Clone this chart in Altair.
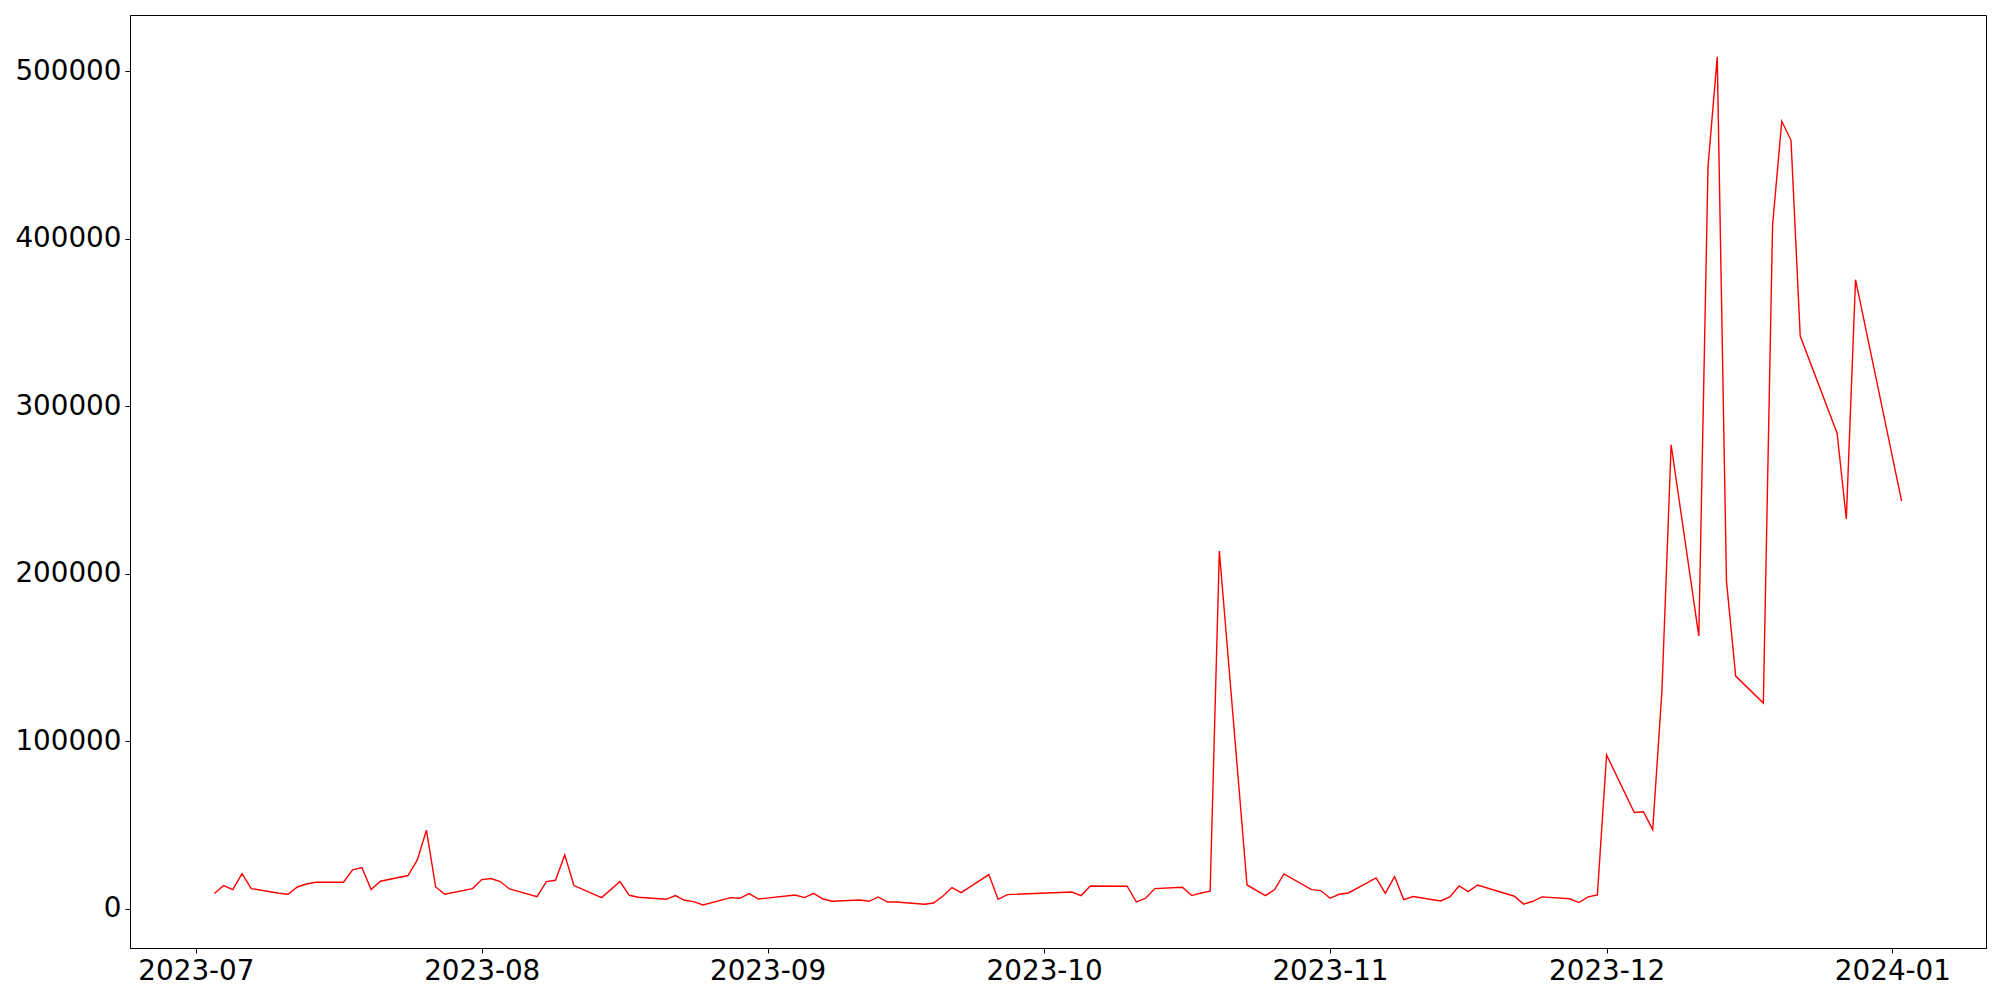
import altair as alt
import pandas as pd

dates = [
    "2023-07-03", "2023-07-04", "2023-07-05", "2023-07-06", "2023-07-07",
    "2023-07-10", "2023-07-11", "2023-07-12", "2023-07-13", "2023-07-14",
    "2023-07-17", "2023-07-18", "2023-07-19", "2023-07-20", "2023-07-21",
    "2023-07-24", "2023-07-25", "2023-07-26", "2023-07-27", "2023-07-28",
    "2023-07-31", "2023-08-01", "2023-08-02", "2023-08-03", "2023-08-04",
    "2023-08-07", "2023-08-08", "2023-08-09", "2023-08-10", "2023-08-11",
    "2023-08-14", "2023-08-16", "2023-08-17", "2023-08-18",
    "2023-08-21", "2023-08-22", "2023-08-23", "2023-08-24", "2023-08-25",
    "2023-08-28", "2023-08-29", "2023-08-30", "2023-08-31",
    "2023-09-04", "2023-09-05", "2023-09-06", "2023-09-07", "2023-09-08",
    "2023-09-11", "2023-09-12", "2023-09-13", "2023-09-14", "2023-09-15",
    "2023-09-18", "2023-09-19", "2023-09-20", "2023-09-21", "2023-09-22",
    "2023-09-25", "2023-09-26", "2023-09-27",
    "2023-10-04", "2023-10-05", "2023-10-06",
    "2023-10-10", "2023-10-11", "2023-10-12", "2023-10-13",
    "2023-10-16", "2023-10-17", "2023-10-18", "2023-10-19", "2023-10-20",
    "2023-10-23", "2023-10-25", "2023-10-26", "2023-10-27",
    "2023-10-30", "2023-10-31", "2023-11-01", "2023-11-02", "2023-11-03",
    "2023-11-06", "2023-11-07", "2023-11-08", "2023-11-09", "2023-11-10",
    "2023-11-13", "2023-11-14", "2023-11-15", "2023-11-16", "2023-11-17",
    "2023-11-21", "2023-11-22", "2023-11-23", "2023-11-24",
    "2023-11-27", "2023-11-28", "2023-11-29", "2023-11-30", "2023-12-01",
    "2023-12-04", "2023-12-05", "2023-12-06", "2023-12-07", "2023-12-08",
    "2023-12-11", "2023-12-12", "2023-12-13", "2023-12-14", "2023-12-15",
    "2023-12-18", "2023-12-19", "2023-12-20", "2023-12-21", "2023-12-22",
    "2023-12-26", "2023-12-27", "2023-12-28",
    "2024-01-02",
]

values = [
    9085, 13870, 11470, 21040, 12070,
    9320, 8670, 13030, 14820, 15840,
    15840, 23190, 24630, 11470, 16440,
    19840, 28990, 46920, 13030, 8670,
    12070, 17450, 18050, 16260, 11830,
    7290, 16260, 17030, 32160, 13870,
    6690, 16260, 8070, 6870,
    5680, 7890, 5080, 4300, 2270,
    6690, 6280, 9085, 5860,
    8250, 6690, 9260, 5860, 4480,
    5260, 4480, 7050, 4060, 4060,
    2690, 3470, 7470, 12670, 9680,
    20440, 5680, 8490,
    10040, 7890, 13630,
    13450, 4060, 6280, 12070,
    12850, 7890, 9440, 10460, 213600,
    14230, 7890, 11470, 20800,
    11470, 10880, 6280, 8670, 9440,
    18410, 9260, 19250, 5500, 7290,
    4660, 7050, 13630, 10280, 14230,
    7500, 2800, 4480, 7110,
    5980, 3710, 7110, 8310, 91870,
    57500, 57920, 47220, 129650, 277000,
    162900, 443000, 508500, 195700, 138900,
    122800, 407900, 470100, 458700, 341900,
    283900, 232700, 375500,
    243400,
]

x_tick_months = [(2023, 7), (2023, 8), (2023, 9), (2023, 10), (2023, 11), (2023, 12), (2024, 1)]
y_ticks = [0, 100000, 200000, 300000, 400000, 500000]

df = pd.DataFrame({"date": dates, "value": values})

FONT = "DejaVu Sans"
FS = 27.8

x_values = [alt.DateTime(year=y, month=m, date=1, utc=True) for y, m in x_tick_months]
x_domain = [
    alt.DateTime(year=2023, month=6, date=23, hours=20, minutes=24, utc=True),
    alt.DateTime(year=2024, month=1, date=11, hours=3, minutes=36, utc=True),
]

chart = (
    alt.Chart(df)
    .mark_line(color="#ff0000", strokeWidth=1.4, clip=True)
    .encode(
        x=alt.X(
            "date:T",
            scale=alt.Scale(type="utc", domain=x_domain, nice=False),
            axis=alt.Axis(
                title=None,
                values=x_values,
                labelExpr="utcFormat(datum.value, '%Y-%m')",
                labelFont=FONT,
                labelFontSize=FS,
                labelColor="black",
                labelPadding=4,
                labelFlush=False,
                labelOverlap=False,
                tickColor="black",
                tickSize=5,
                tickWidth=1,
                domainColor="black",
                domainWidth=1,
                grid=False,
            ),
        ),
        y=alt.Y(
            "value:Q",
            scale=alt.Scale(domain=[-23400, 533500], nice=False, zero=False),
            axis=alt.Axis(
                title=None,
                values=y_ticks,
                format="d",
                labelFont=FONT,
                labelFontSize=FS,
                labelColor="black",
                labelPadding=4,
                labelOverlap=False,
                labelFlush=False,
                tickColor="black",
                tickSize=5,
                tickWidth=1,
                domainColor="black",
                domainWidth=1,
                grid=False,
            ),
        ),
    )
    .properties(
        width=1856,
        height=933,
        autosize=alt.AutoSizeParams(type="none"),
        padding={"left": 122, "top": 7, "right": 6, "bottom": 50},
        background="white",
    )
    .configure_view(stroke="black", strokeWidth=1)
)

chart.save("out.html", embed_options={"renderer": "svg", "actions": False})
